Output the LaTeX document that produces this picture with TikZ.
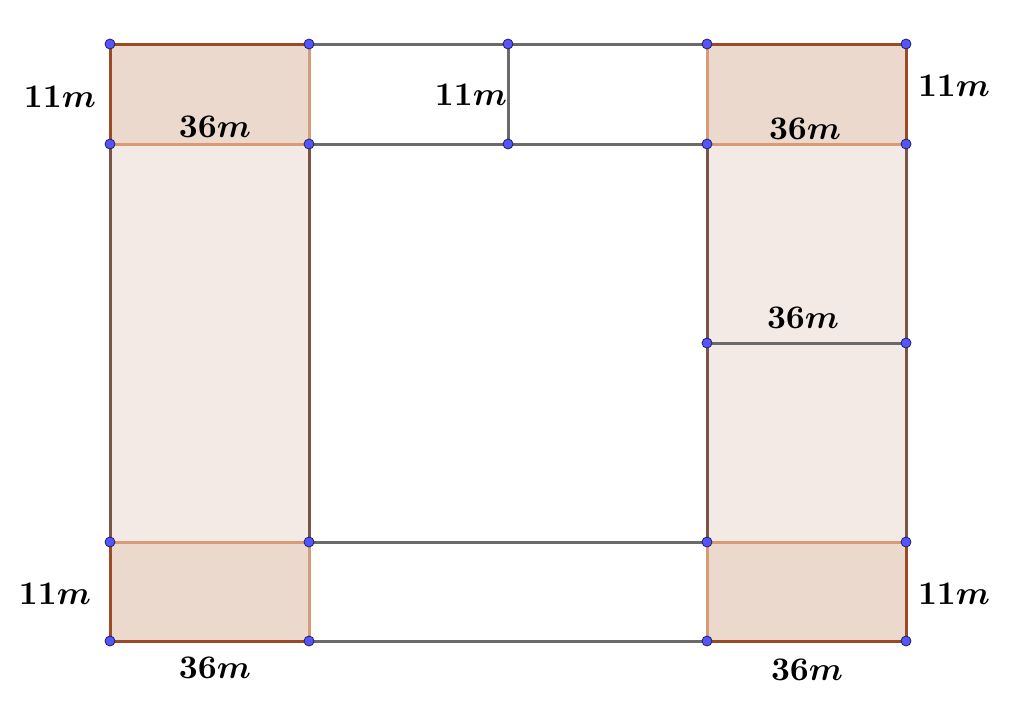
\documentclass[tikz,border=0pt]{standalone}
\usepackage{amsmath}
\definecolor{darkfill}{HTML}{EBD9CE}
\definecolor{lightfill}{HTML}{F4EAE5}
\definecolor{brownedge}{HTML}{9A4A24}
\definecolor{oredge}{HTML}{D99A78}
\definecolor{greyedge}{HTML}{6A6A6A}
\definecolor{coledge}{HTML}{7A5545}
\definecolor{ptfill}{HTML}{5555FF}
\definecolor{ptdraw}{HTML}{202060}
\tikzset{
  dedge/.style={draw=brownedge,line width=3pt},
  oedge/.style={draw=oredge,line width=3pt},
  gedge/.style={draw=greyedge,line width=3pt},
  cedge/.style={draw=coledge,line width=3pt},
  pt/.style={circle,fill=ptfill,draw=ptdraw,line width=0.8pt,inner sep=0pt,minimum size=10pt},
  lab/.style={inner sep=0pt,scale=3.3,font=\normalsize\boldmath}
}
\begin{document}
\begin{tikzpicture}[x=1pt,y=-1pt]
\useasboundingbox (0,0) rectangle (1024,704);
% coordinates
\foreach \n/\x in {a/110,b/309,c/508,d/707,e/906}{
  \foreach \m/\y in {1/44,2/144,3/343,4/542,5/641}{
    \coordinate (\n\m) at (\x,\y);
  }
}
% fills
\fill[lightfill] (a2) rectangle (b4);
\fill[lightfill] (d2) rectangle (e4);
\fill[darkfill] (a1) rectangle (b2);
\fill[darkfill] (a4) rectangle (b5);
\fill[darkfill] (d1) rectangle (e2);
\fill[darkfill] (d4) rectangle (e5);
% grey lines
\draw[gedge] (b1) -- (d1);
\draw[gedge] (b2) -- (d2);
\draw[gedge] (c1) -- (c2);
\draw[gedge] (b4) -- (d4);
\draw[gedge] (b5) -- (d5);
\draw[gedge] (d3) -- (e3);
% column long edges
\draw[cedge] (a2) -- (a4);
\draw[cedge] (b2) -- (b4);
\draw[cedge] (d2) -- (d4);
\draw[cedge] (e2) -- (e4);
% light orange edges
\draw[oedge] (a2) -- (b2);
\draw[oedge] (b1) -- (b2);
\draw[oedge] (a4) -- (b4);
\draw[oedge] (b4) -- (b5);
\draw[oedge] (d1) -- (d2);
\draw[oedge] (d2) -- (e2);
\draw[oedge] (d4) -- (e4);
\draw[oedge] (d4) -- (d5);
% dark brown edges
\draw[dedge] (a1) -- (b1);
\draw[dedge] (a1) -- (a2);
\draw[dedge] (a4) -- (a5) -- (b5);
\draw[dedge] (d1) -- (e1) -- (e2);
\draw[dedge] (d5) -- (e5) -- (e4);
% points
\foreach \p in {a1,b1,c1,d1,e1,a2,b2,c2,d2,e2,d3,e3,a4,b4,d4,e4,a5,b5,d5,e5}{
  \node[pt] (P\p) at (\p) {};
}
% labels
\node[lab] (l1) at (60,97) {$11m$};
\node[lab] (l2) at (215,127) {$36m$};
\node[lab] (l3) at (471,95) {$11m$};
\node[lab] (l4) at (954,86) {$11m$};
\node[lab] (l5) at (805,129) {$36m$};
\node[lab] (l6) at (803,318) {$36m$};
\node[lab] (l7) at (55,594) {$11m$};
\node[lab] (l8) at (215,668) {$36m$};
\node[lab] (l9) at (954,594) {$11m$};
\node[lab] (l10) at (807,670) {$36m$};
\end{tikzpicture}
\end{document}
